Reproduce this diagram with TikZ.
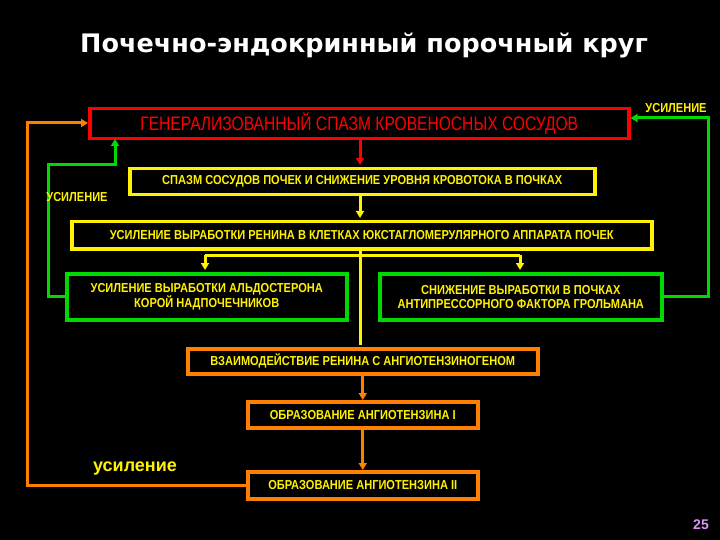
\documentclass[tikz,border=0pt]{standalone}
\usepackage{fontspec}
\setmainfont{Liberation Sans}
\newfontfamily\nar[FakeStretch=0.85]{Liberation Sans}
\newfontfamily\narr[FakeStretch=0.8]{Liberation Sans}
\newfontfamily\dv{DejaVu Sans}
\usetikzlibrary{arrows.meta}
\begin{document}
\begin{tikzpicture}[x=1pt,y=-1pt,
  bx/.style={draw=#1,line width=3.5pt,fill=black,text=yellow,font=\nar\bfseries\fontsize{13}{14}\selectfont,align=center,inner sep=0pt,anchor=north west},
  ar/.style={draw=#1,line width=3pt,-{Triangle[length=7pt,width=8pt]}},
  ln/.style={draw=#1,line width=3pt}]
\fill[black] (0,0) rectangle (720,540);
\node (title) at (364,46) {\dv\bfseries\fontsize{25.5}{28}\selectfont\color{white}Почечно-эндокринный порочный круг};
\node[bx=red,minimum width=539,minimum height=30,text=red,font=\narr\fontsize{19.5}{21}\selectfont] (r) at (88,107) {ГЕНЕРАЛИЗОВАННЫЙ СПАЗМ КРОВЕНОСНЫХ СОСУДОВ};
\node[bx=yellow,minimum width=465,minimum height=26] (y1) at (128,167) {СПАЗМ СОСУДОВ ПОЧЕК И СНИЖЕНИЕ УРОВНЯ КРОВОТОКА В ПОЧКАХ};
\node[bx=yellow,minimum width=580,minimum height=27] (y2) at (70,220) {УСИЛЕНИЕ ВЫРАБОТКИ РЕНИНА В КЛЕТКАХ ЮКСТАГЛОМЕРУЛЯРНОГО АППАРАТА ПОЧЕК};
\node[bx=green!85!black,minimum width=280,minimum height=46] (g1) at (65,272) {УСИЛЕНИЕ ВЫРАБОТКИ АЛЬДОСТЕРОНА\\КОРОЙ НАДПОЧЕЧНИКОВ};
\node[bx=green!85!black,minimum width=282,minimum height=46] (g2) at (378,272) {СНИЖЕНИЕ ВЫРАБОТКИ В ПОЧКАХ\\АНТИПРЕССОРНОГО ФАКТОРА ГРОЛЬМАНА};
\node[bx=orange,minimum width=350,minimum height=25] (o1) at (186,347) {ВЗАИМОДЕЙСТВИЕ РЕНИНА С АНГИОТЕНЗИНОГЕНОМ};
\node[bx=orange,minimum width=230,minimum height=26] (o2) at (246,400) {ОБРАЗОВАНИЕ АНГИОТЕНЗИНА I};
\node[bx=orange,minimum width=230,minimum height=27] (o3) at (246,470) {ОБРАЗОВАНИЕ АНГИОТЕНЗИНА II};
\draw[ar=red] (360,137) -- (360,165);
\draw[ar=yellow] (360,193) -- (360,218);
\draw[ln=yellow] (360,247) -- (360,345);
\draw[ar=yellow] (205,255) -- (205,270);
\draw[ar=yellow] (520,255) -- (520,270);
\draw[ln=yellow] (205,255) -- (520,255);
\draw[ar=orange] (o1.south) -- (o2.north);
\draw[ar=orange] (o2.south) -- (o3.north);
\draw[ar=green!85!black] (g1.west) -| (48,165) -- (115,165) -- (115,139);
\draw[ar=green!85!black] (g2.east) -| (708,118) -- (r.east |- 0,118);
\draw[ar=orange] (o3.west) -| (27,123) -- (r.west |- 0,123);
\node[text=yellow,font=\nar\bfseries\fontsize{13}{14}\selectfont] (u1) at (77,197) {УСИЛЕНИЕ};
\node[text=yellow,font=\nar\bfseries\fontsize{13}{14}\selectfont] (u2) at (676,108) {УСИЛЕНИЕ};
\node[text=yellow,font=\bfseries\fontsize{18}{20}\selectfont] (u3) at (135,469) {усиление};
\node[text={rgb,255:red,220;green,150;blue,240},font=\bfseries\fontsize{14}{16}\selectfont] (n) at (701,525) {25};
\end{tikzpicture}
\end{document}
